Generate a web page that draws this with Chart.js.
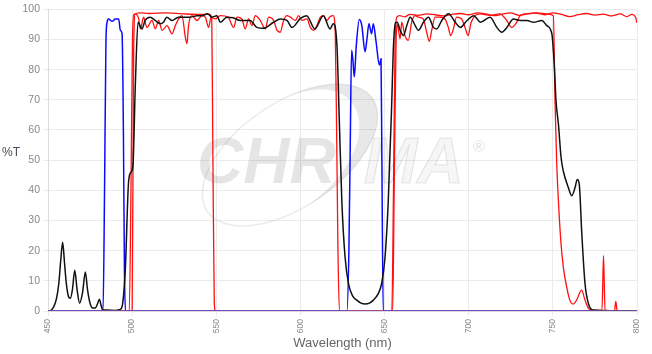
<!DOCTYPE html>
<html><head><meta charset="utf-8">
<script src="https://cdn.jsdelivr.net/npm/chart.js@4.4.1/dist/chart.umd.min.js"></script>
<style>html,body{margin:0;padding:0;background:#fff;}canvas{display:block;}</style>
</head><body>
<canvas id="c" width="652" height="354"></canvas>
<script>
// ---- Data (wavelength nm, %T) ----
const xTicks = [450, 500, 550, 600, 650, 700, 750, 800];
const yTicks = [0, 10, 20, 30, 40, 50, 60, 70, 80, 90, 100];

const blueWl = [450, 482.7, 483.6, 484.4, 485.1, 486.0, 488.1, 490.0, 492.0, 493.0, 494.0, 494.8, 495.4, 496.0, 627.6, 628.8, 629.6, 630.4, 631.2, 632.0, 633.2, 635.0, 636.5, 638.4, 639.5, 640.7, 642.3, 643.3, 645.0, 646.9, 647.9, 648.4, 649.2, 800];
const blueT  = [0, 0, 40, 88, 95.7, 96.8, 96.0, 96.8, 96.8, 93, 92, 60, 15, 0, 0, 20, 55, 86.4, 83, 77.6, 88, 96.6, 94.5, 85.9, 90, 95.2, 91.9, 95.2, 89, 81.5, 83.6, 50, 0, 0];

const blackWl = [450, 452, 453.4, 455, 456.4, 457.6, 458.7, 459.8, 460.9, 462.3,
  463.3, 464.5, 465.9, 467.3, 468.8, 470.5, 472.2, 473.5, 474.8, 476.5,
  478.1, 479.5, 480.5, 481.5, 482.5, 485, 490, 493, 494.5, 496.0,
  497.9, 499.3, 500.5, 501.9, 503.5, 505.8, 507.7, 510.7, 513.7, 516.7,
  518.6, 520.6, 523.6, 527.5, 530.5, 534.5, 538.5, 541.5, 544.8, 547.4,
  550.4, 552.4, 556.3, 560, 564.2, 570.1, 574.1, 578, 584, 588,
  592, 595, 600, 603.7, 608.6, 613.6, 617.6, 619.5, 621.7, 623,
  624.6, 626.5, 628.6, 631, 633.5, 636, 638.4, 641, 643.3, 646,
  648.3, 650.3, 652.2, 654.2, 655.3, 656.5, 657.5, 659.3, 661.2, 663.2,
  665.2, 668.2, 670.1, 673.1, 676.1, 679, 681, 684, 688, 692,
  695, 699, 703, 707, 712.7, 716.7, 719.7, 722.7, 726.6, 730.6,
  734.6, 738.5, 743.5, 746.4, 749.4, 750.8, 751.9, 753.3, 754.9, 756.2,
  759.2, 761.2, 763.2, 764.5, 765.7, 767.2, 769.1, 771.1, 774, 800];
const blackT = [0, 0.3, 1.4, 4, 9, 17, 22.8, 16, 9.1, 4.6,
  4.2, 7, 13.5, 7, 2.6, 6, 12.9, 7, 3, 1,
  1, 2.5, 3.9, 2, 0.3, 0.3, 0.2, 0.5, 3, 14.6,
  43, 46, 48.5, 75, 95.7, 93.5, 96.3, 97.4, 96.3, 95.2,
  95.7, 97.4, 96.3, 97.4, 97.4, 97.4, 97.9, 97.9, 98.5, 97.4,
  97.9, 95.7, 97.4, 97.2, 96.3, 96.3, 94, 93.7, 95.7, 96.8,
  96.3, 94, 97, 97.9, 93.5, 97.9, 93.5, 95.2, 88, 65,
  36.5, 18, 9, 5, 3.6, 2.6, 2.3, 2.6, 3.6, 5.5,
  9.2, 18, 36.5, 68, 88, 95.5, 95.7, 93, 91.3, 94.6,
  97.4, 94.6, 93, 95.7, 97.4, 94, 93.5, 96.3, 98.5, 95.7,
  94, 96.3, 97.9, 95.7, 97.4, 94, 92.4, 94, 96.8, 96.3,
  96.3, 95.7, 96.3, 94.6, 91.9, 82, 69.4, 62, 50.8, 46.4,
  40.9, 38.2, 40.9, 43.6, 42, 25.6, 9.1, 2.5, 0.3, 0];

const redAWl = [450, 498.3, 499.3, 500.2, 501, 505, 510, 520, 530, 540, 546, 547.3, 548.0, 548.8, 549.5, 800];
const redAT  = [0, 0, 40, 90, 98.3, 98.8, 98.6, 98.8, 98.5, 98.3, 98.3, 97, 50, 3, 0, 0];

const redBWl = [450, 500.0, 500.9, 501.9, 503.9, 504.9, 506.8, 508.8, 511.8, 513.8,
  515.7, 517.8, 520.7, 523.7, 525.7, 527.6, 529.6, 531.6, 532.6, 533.5,
  535.6, 538.5, 541.5, 543.5, 545.4, 546.9, 549.4, 552.4, 557, 560.3,
  562.3, 565.2, 567.2, 569.2, 571.2, 573.2, 576.1, 579.1, 581.1, 584.1,
  586.1, 588, 590, 592, 594, 597, 598.9, 600.9, 603.9, 605.9,
  607.8, 609.8, 611.8, 613.8, 615.7, 617.5, 619.5, 620.7, 621.5, 622.3,
  623.2, 654.8, 655.8, 656.8, 657.4, 658.2, 659.2, 660.2, 662.1, 664.1,
  666.1, 668.1, 670, 673, 675, 676.6, 678, 680, 682.9, 685.9,
  687.9, 689.3, 690.9, 692.8, 695.8, 697.8, 699.7, 701.2, 703.7, 706.7,
  712.6, 718.5, 722.6, 725.5, 728.5, 730.5, 734.5, 740.4, 746.3, 750.3,
  751.3, 752.3, 753.3, 754.7, 756.2, 758.2, 760.1, 762.1, 764.1, 767.1,
  769.1, 771.1, 774, 779.2, 780.1, 781, 786.6, 787.4, 788.2, 800];
const redBT = [0, 0, 86, 98.5, 96.8, 93.5, 97.4, 94, 96.3, 93.5,
  96.3, 93, 94.6, 91.9, 94.6, 96.8, 97.9, 90.8, 88.6, 94.6,
  97.9, 96.3, 97.9, 97.4, 94, 97.4, 96.8, 97.9, 97.4, 94,
  97.4, 96.8, 93.5, 96.8, 94.6, 97.9, 96.3, 93.5, 97.4, 96.3,
  93, 92.4, 96.3, 97.9, 97.4, 96.3, 97.9, 96.3, 96.8, 94,
  93, 94.6, 97.4, 97.9, 96.3, 97.5, 97.9, 92, 60, 20,
  0, 0, 45, 88, 95, 93.5, 90.2, 95.7, 91.3, 89.7,
  95.7, 97.9, 97.4, 96.8, 92.4, 89.4, 93, 97.4, 97.4, 96.8,
  94, 91.3, 93.5, 97.4, 96.8, 94, 91.3, 95.2, 97.9, 98.5,
  98, 98.5, 96.3, 94, 95.7, 97.9, 98.5, 98.8, 98.5, 97.9,
  69, 49, 36.5, 23.4, 14.6, 8, 3.6, 2.3, 3.6, 6.9,
  3.6, 0.9, 0.2, 0.3, 18.4, 0.3, 0, 3.2, 0, 0];

const redCWl = [450, 654.3, 655.3, 656.2, 657.3, 659, 662, 665, 670, 675,
  680, 685, 690, 695, 700, 705, 710, 715, 720, 725, 730, 735, 740, 745, 750,
  755, 760, 765, 770, 775, 780, 785, 790, 794, 797, 799, 800];
const redCT = [0, 0, 40, 88, 97.4, 97.9, 97.5, 98.3, 98, 98.5,
  98.2, 97.8, 98.3, 98.6, 98.2, 98.8, 98.5, 97.9, 98.4, 98.8, 98, 98.5, 98.7, 98.2, 98.8,
  98.3, 97.6, 98.2, 98.6, 98.1, 98.4, 97.8, 98.5, 97.6, 98.3, 97.5, 95.5];

const baseWl = [450, 800];
const baseT = [0, 0];

function pts(xs, ys) { return xs.map((x, i) => ({ x: x, y: ys[i] })); }

function line(data, color, width) {
  return { data: data, borderColor: color, borderWidth: width, pointRadius: 0,
           fill: false, cubicInterpolationMode: 'monotone' };
}

// watermark
function ellPt(cx, cy, rx, ry, th, t) {
  return [cx + rx * Math.cos(t) * Math.cos(th) - ry * Math.sin(t) * Math.sin(th),
          cy + rx * Math.cos(t) * Math.sin(th) + ry * Math.sin(t) * Math.cos(th)];
}
const watermark = {
  id: 'watermark',
  beforeDatasetsDraw(chart) {
    const ctx = chart.ctx;
    ctx.save();
    const cx = 290, cy = 155, rx = 100, ry = 52, th = -0.6;
    // thin swoosh
    ctx.strokeStyle = 'rgba(0,0,0,0.08)';
    ctx.lineWidth = 1.5;
    ctx.beginPath();
    ctx.ellipse(cx, cy, rx, ry, th, 0, Math.PI * 2);
    ctx.stroke();
    // crescent
    ctx.fillStyle = 'rgba(0,0,0,0.09)';
    ctx.beginPath();
    const t0 = -1.3, t1 = 1.7, n = 40;
    for (let i = 0; i <= n; i++) {
      const t = t0 + (t1 - t0) * i / n;
      const p = ellPt(cx, cy, rx, ry, th, t);
      if (i === 0) ctx.moveTo(p[0], p[1]); else ctx.lineTo(p[0], p[1]);
    }
    for (let i = n; i >= 0; i--) {
      const t = t0 + (t1 - t0) * i / n;
      const d = 15 * Math.sin(Math.PI * i / n);
      const p = ellPt(cx - d * 0.4, cy, rx - d, ry - d * 0.35, th, t);
      ctx.lineTo(p[0], p[1]);
    }
    ctx.closePath();
    ctx.fill();
    ctx.font = 'italic bold 64px "Liberation Sans", Arial, sans-serif';
    ctx.textBaseline = 'alphabetic';
    ctx.fillStyle = 'rgba(0,0,0,0.1)';
    ctx.fillText('CHR', 197, 183);
    ctx.fillStyle = 'rgba(0,0,0,0.035)';
    ctx.strokeStyle = 'rgba(0,0,0,0.1)';
    ctx.lineWidth = 1.2;
    ctx.fillText('MA', 364, 183);
    ctx.strokeText('MA', 364, 183);
    ctx.font = '16px "Liberation Sans", Arial, sans-serif';
    ctx.fillStyle = 'rgba(0,0,0,0.12)';
    ctx.fillText('\u00AE', 473, 152);
    ctx.restore();
  }
};
const yTitle = {
  id: 'yTitle',
  afterDraw(chart) {
    const ctx = chart.ctx;
    ctx.save();
    ctx.font = '12px "Liberation Sans", Arial, sans-serif';
    ctx.fillStyle = '#444c58';
    ctx.textAlign = 'center';
    ctx.textBaseline = 'middle';
    ctx.fillText('%T', 11, 153);
    ctx.restore();
  }
};

Chart.defaults.font.family = '"Liberation Sans", Arial, sans-serif';

new Chart(document.getElementById('c'), {
  type: 'line',
  data: {
    datasets: [
      line(pts(baseWl, baseT), '#8a58b8', 1.5),
      line(pts(blackWl, blackT), '#111111', 1.5),
      line(pts(blueWl, blueT), '#0a0aff', 1.5),
      line(pts(redBWl, redBT), '#ff1010', 1.3),
      line(pts(redAWl, redAT), '#ff1010', 1.3),
      line(pts(redCWl, redCT), '#ff1010', 1.3)
    ]
  },
  options: {
    responsive: false,
    animation: false,
    layout: { padding: { top: 7, right: 15, left: 0, bottom: 0 } },
    plugins: { legend: { display: false }, tooltip: { enabled: false } },
    scales: {
      x: {
        type: 'linear', min: xTicks[0], max: xTicks[xTicks.length - 1],
        afterBuildTicks: s => { s.ticks = xTicks.map(v => ({ value: v })); },
        afterFit: s => { s.height = 43; },
        ticks: { maxRotation: 90, minRotation: 90, autoSkip: false, color: '#888', font: { size: 8.5 }, padding: 3 },
        grid: { color: '#ebebeb', tickLength: 5 },
        border: { color: '#dcdcdc' },
        title: { display: true, text: 'Wavelength (nm)', color: '#666', font: { size: 13 }, padding: { top: 4, bottom: 3 } }
      },
      y: {
        min: yTicks[0], max: yTicks[yTicks.length - 1],
        afterBuildTicks: s => { s.ticks = yTicks.map(v => ({ value: v })); },
        afterFit: s => { s.width = 48; },
        ticks: { color: '#888', font: { size: 10.5 }, padding: 3 },
        grid: { color: '#ebebeb', tickLength: 5 },
        border: { color: '#dcdcdc' }
      }
    }
  },
  plugins: [watermark, yTitle]
});
</script>
</body></html>
